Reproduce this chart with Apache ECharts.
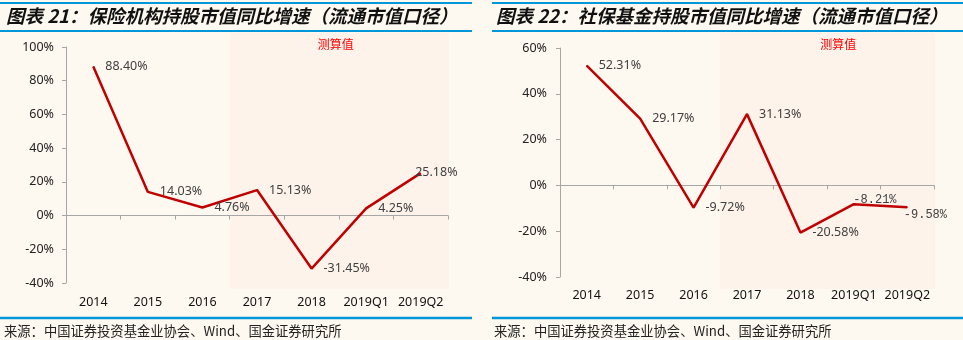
<!DOCTYPE html>
<html>
<head>
<meta charset="utf-8">
<script src="https://cdn.jsdelivr.net/npm/echarts@6/dist/echarts.min.js"></script>
<style>
  html, body { margin: 0; padding: 0; background: #FEF9F0; }
  #chart { width: 963px; height: 340px; }
</style>
</head>
<body>
<div id="chart"></div>
<script>
// Year-on-year growth of A-share holdings market value (free-float basis), %
const categories = ['2014', '2015', '2016', '2017', '2018', '2019Q1', '2019Q2'];
const insuranceGrowth = [88.40, 14.03, 4.76, 15.13, -31.45, 4.25, 25.18];
const ssfGrowth = [52.31, 29.17, -9.72, 31.13, -20.58, -8.21, -9.58];
const leftTicks = { min: -40, max: 100, interval: 20 };
const rightTicks = { min: -40, max: 60, interval: 20 };
const estimateFrom = '2017';   // estimated values start here

const titleLeft = '图表 21：保险机构持股市值同比增速（流通市值口径）';
const titleRight = '图表 22：社保基金持股市值同比增速（流通市值口径）';
const sourceText = '来源：中国证券投资基金业协会、Wind、国金证券研究所';
const estimateText = '测算值';

const BLUE = '#0096DA';
const LINE_RED = '#C00000';
const SHADE = '#FDF3EB';
const AXIS_GRAY = '#A6A6A6';
const LABEL_GRAY = '#404040';
const FONT = '"Noto Sans", sans-serif';
const CJK = '"Noto Sans CJK SC", sans-serif';

const chart = echarts.init(document.getElementById('chart'), null, { renderer: 'canvas' });

function pct(v) { return v.toFixed(2) + '%'; }

function valueAxis(gridIndex, t, margin) {
  return {
    type: 'value', gridIndex, min: t.min, max: t.max, interval: t.interval,
    axisLine: { show: true, lineStyle: { color: AXIS_GRAY, width: 1 } },
    axisTick: { show: true, length: 4, lineStyle: { color: AXIS_GRAY } },
    splitLine: { show: false },
    axisLabel: { formatter: '{value}%', color: '#222', fontFamily: FONT, fontSize: 12.5, margin }
  };
}

function zeroAxis(gridIndex) {
  return {
    type: 'category', gridIndex, data: categories, boundaryGap: true,
    axisLine: { onZero: true, lineStyle: { color: AXIS_GRAY, width: 1 } },
    axisTick: { show: true, length: 4, interval: 0, lineStyle: { color: AXIS_GRAY } },
    axisLabel: { show: false }
  };
}

function labelAxis(gridIndex, margin) {
  return {
    type: 'category', gridIndex, data: categories, position: 'bottom',
    axisLine: { show: false, onZero: false }, axisTick: { show: false },
    axisLabel: { interval: 0, color: '#111', fontFamily: FONT, fontSize: 12.5, margin }
  };
}

const baseLabel = {
  show: true, position: 'right', distance: 11.5,
  color: LABEL_GRAY, fontFamily: FONT, fontSize: 12.5,
  formatter: p => pct(p.value)
};

function seriesData(values, overrides) {
  return values.map((v, i) => overrides[i] ? { value: v, label: overrides[i] } : v);
}

const monoLabel = { fontFamily: '"Liberation Mono", monospace', fontSize: 12, color: LABEL_GRAY };

function lineSeries(xAxisIndex, yAxisIndex, values, overrides) {
  return {
    type: 'line', xAxisIndex, yAxisIndex, z: 5,
    data: seriesData(values, overrides),
    symbol: 'circle', symbolSize: 1, showSymbol: true,
    itemStyle: { color: LINE_RED },
    lineStyle: { color: LINE_RED, width: 2.5 },
    label: baseLabel,
    labelLayout: { hideOverlap: false }
  };
}

chart.setOption({
  animation: false,
  backgroundColor: '#FEF9F0',
  grid: [
    { left: 66, top: 47, width: 382, height: 236 },
    { left: 560, top: 48, width: 374, height: 229 }
  ],
  xAxis: [zeroAxis(0), labelAxis(0, 13), zeroAxis(1), labelAxis(1, 12)],
  yAxis: [valueAxis(0, leftTicks, 12), valueAxis(1, rightTicks, 13)],
  series: [
    lineSeries(0, 0, insuranceGrowth, { 6: { position: [-5, -7] } }),
    lineSeries(2, 1, ssfGrowth, {
      5: Object.assign({ position: [0, -10] }, monoLabel),
      6: Object.assign({ position: [-3, 2] }, monoLabel)
    })
  ]
});

// Panel decorations: rules, titles, source notes, and the estimate shading
function estimateShade(xAxisIndex, top, bottom, textDx) {
  const step = chart.convertToPixel({ xAxisIndex }, categories[1]) - chart.convertToPixel({ xAxisIndex }, categories[0]);
  const x0 = chart.convertToPixel({ xAxisIndex }, estimateFrom) - step / 2;
  const x1 = chart.convertToPixel({ xAxisIndex }, categories[categories.length - 1]) + step / 2;
  return [
    { type: 'rect', z: -10, silent: true, shape: { x: x0, y: top, width: x1 - x0 + 1, height: bottom - top }, style: { fill: SHADE } },
    { type: 'text', z: 10, silent: true, x: x0 + textDx, y: top + 11,
      style: { text: estimateText, fill: '#FF0000', font: '12px ' + CJK, textVerticalAlign: 'middle' } }
  ];
}

function panelFrame(x0, x1, title, titleX, srcX) {
  return [
    { type: 'line', shape: { x1: x0, y1: 3, x2: x1, y2: 3 }, style: { stroke: BLUE, lineWidth: 2 } },
    { type: 'line', shape: { x1: x0, y1: 31, x2: x1, y2: 31 }, style: { stroke: BLUE, lineWidth: 2 } },
    { type: 'line', shape: { x1: x0, y1: 318, x2: x1, y2: 318 }, style: { stroke: BLUE, lineWidth: 2.5 } },
    { type: 'text', x: titleX, y: 16,
      style: { text: title, fill: '#111', font: 'italic bold 18.5px ' + CJK, textVerticalAlign: 'middle' } },
    { type: 'text', x: srcX, y: 331,
      style: { text: sourceText, fill: '#222', font: '13.3px ' + CJK, textVerticalAlign: 'middle' } }
  ];
}

chart.setOption({
  graphic: [].concat(
    panelFrame(0, 472, titleLeft, 6, 4),
    panelFrame(492, 963, titleRight, 496, 494),
    estimateShade(0, 33, 289, 88),
    estimateShade(2, 33, 289, 100)
  )
});
</script>
</body>
</html>
